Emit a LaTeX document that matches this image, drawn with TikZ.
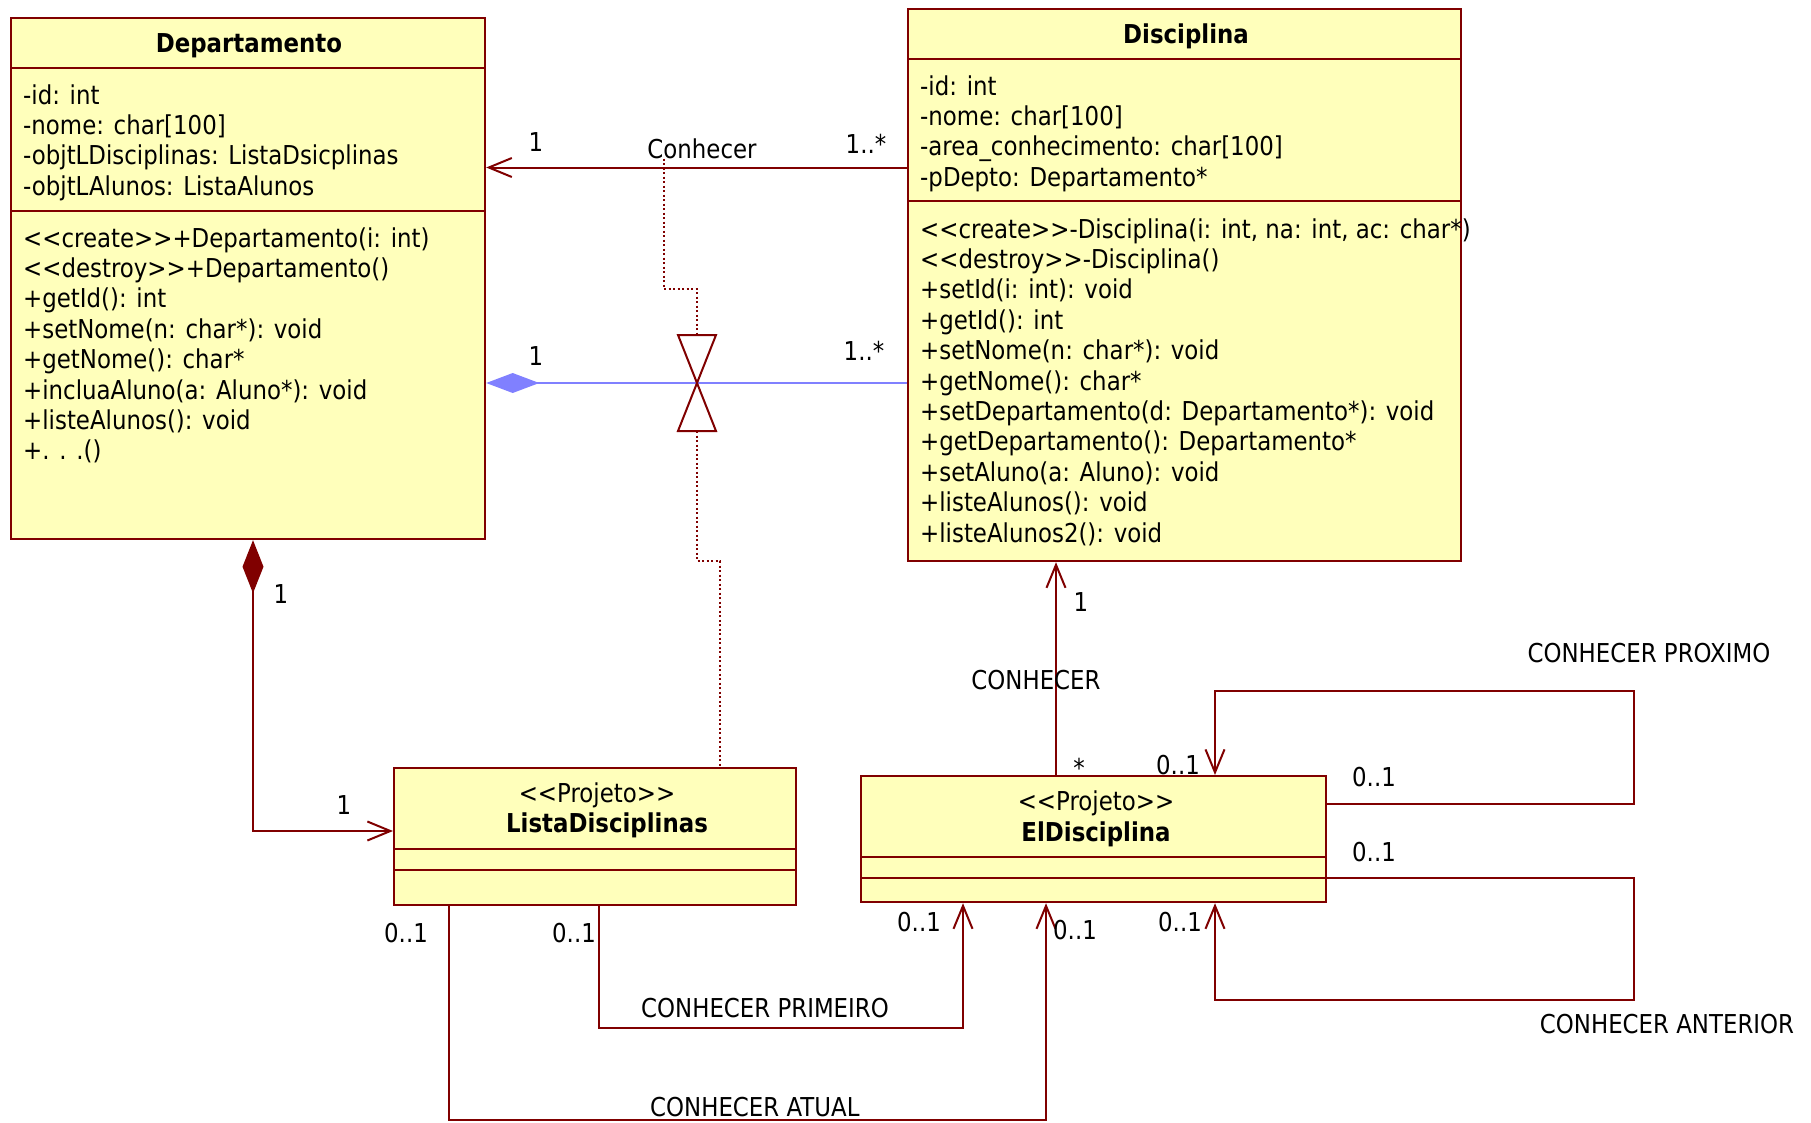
\documentclass[tikz,border=0pt]{standalone}
\usepackage{fontspec}
\setmainfont{DejaVu Sans}[FakeStretch=0.88]
\usetikzlibrary{arrows.meta}
\definecolor{umlred}{RGB}{128,0,0}
\definecolor{umlfill}{RGB}{255,255,187}
\definecolor{umlblue}{RGB}{128,128,255}
\tikzset{
  cls/.style={draw=umlred, fill=umlfill, line width=2.2pt, inner sep=0pt, anchor=north west},
  sepline/.style={draw=umlred, line width=2.2pt},
  txt/.style={inner sep=0pt, anchor=base west, font=\fontsize{26}{30}\selectfont},
  lbl/.style={inner sep=0pt, anchor=base, font=\fontsize{26}{30}\selectfont},
  ttl/.style={inner sep=0pt, anchor=base, font=\fontsize{26}{30}\selectfont\bfseries},
  assoc/.style={draw=umlred, line width=2pt},
  openhead/.style={-{Straight Barb[length=23pt, width=19pt, line width=2pt]}},
  dotline/.style={draw=umlred, line width=2pt, dash pattern=on 2pt off 2.5pt},
}
\newcommand\linesat[4]{\foreach \t [count=\i] in {#4} {\node[txt] (#1\i) at (#2,{#3+30.4*(\i-1)}) {\t};}}
\begin{document}
\begin{tikzpicture}[x=1pt,y=-1pt]
\useasboundingbox (0,0) rectangle (1811,1122);

% ---------- Departamento ----------
\node[cls, minimum width=474pt, minimum height=521pt] (dep) at (10,17) {};
\draw[sepline] (dep.west |- 0,68) -- (dep.east |- 0,68);
\draw[sepline] (dep.west |- 0,211) -- (dep.east |- 0,211);
\node[ttl] (depT) at (249,52.6) {Departamento};
\linesat{dA}{23}{104}{{-id: int},{-nome: char[100]},{-objtLDisciplinas: ListaDsicplinas},{-objtLAlunos: ListaAlunos}}
\linesat{dM}{23}{247}{{<{}<create>{}>+Departamento(i: int)},{<{}<destroy>{}>+Departamento()},{+getId(): int},{+setNome(n: char*): void},{+getNome(): char*},{+incluaAluno(a: Aluno*): void},{+listeAlunos(): void},{+. . .()}}

% ---------- Disciplina ----------
\node[cls, minimum width=553pt, minimum height=552pt] (dis) at (907,8) {};
\draw[sepline] (dis.west |- 0,59) -- (dis.east |- 0,59);
\draw[sepline] (dis.west |- 0,201) -- (dis.east |- 0,201);
\node[ttl] (disT) at (1186,43) {Disciplina};
\linesat{sA}{920}{95}{{-id: int},{-nome: char[100]},{-area\_conhecimento: char[100]},{-pDepto: Departamento*}}
\linesat{sM}{920}{238}{{<{}<create>{}>-Disciplina(i: int, na: int, ac: char*)},{<{}<destroy>{}>-Disciplina()},{+setId(i: int): void},{+getId(): int},{+setNome(n: char*): void},{+getNome(): char*},{+setDepartamento(d: Departamento*): void},{+getDepartamento(): Departamento*},{+setAluno(a: Aluno): void},{+listeAlunos(): void},{+listeAlunos2(): void}}

% ---------- ListaDisciplinas ----------
\node[cls, minimum width=402pt, minimum height=137pt] (lst) at (393,767) {};
\draw[sepline] (lst.west |- 0,849) -- (lst.east |- 0,849);
\draw[sepline] (lst.west |- 0,870) -- (lst.east |- 0,870);
\node[lbl] (lstS) at (597,802) {<{}<Projeto>{}>};
\node[ttl] (lstT) at (607,832) {ListaDisciplinas};

% ---------- ElDisciplina ----------
\node[cls, minimum width=465pt, minimum height=126pt] (eld) at (860,775) {};
\draw[sepline] (eld.west |- 0,857) -- (eld.east |- 0,857);
\draw[sepline] (eld.west |- 0,878) -- (eld.east |- 0,878);
\node[lbl] (eldS) at (1096,810) {<{}<Projeto>{}>};
\node[ttl] (eldT) at (1096,841) {ElDisciplina};

% ---------- Conhecer (Disciplina -> Departamento) ----------
\draw[assoc, openhead] (dis.west |- 0,167.5) -- (dep.east |- 0,167.5);
\node[lbl] (l1) at (536,151) {1};
\node[lbl] (lconh) at (702,158) {Conhecer};
\node[lbl] (l2) at (866,153) {1..*};

% ---------- blue aggregation ----------
\draw[draw=umlblue, line width=2pt, {Diamond[length=53pt, width=20pt, fill=umlblue, color=umlblue]}-] (dep.east |- 0,383) -- (dis.west |- 0,383);
\node[lbl] (l3) at (536,365) {1};
\node[lbl] (l4) at (864,360) {1..*};

% ---------- bowtie ----------
\coordinate (btC) at (697,383);
\coordinate (btT) at (697,335);
\coordinate (btB) at (697,431);
\draw[umlred, line width=2pt, line join=miter] (678,335) -- (716,335) -- (btC) -- cycle;
\draw[umlred, line width=2pt, line join=miter] (678,431) -- (716,431) -- (btC) -- cycle;
\draw[dotline] (lconh.south -| 664,0) |- (btT |- 0,289) -- (btT);
\draw[dotline] (btB) -- (btB |- 0,561) -- (720,561) -- (lst.north -| 720,0);

% ---------- composition ----------
\draw[assoc, {Diamond[length=53pt, width=21pt, fill=umlred]}-{Straight Barb[length=23pt, width=19pt, line width=2pt]}] (dep.south -| 253,0) |- (lst.west |- 0,831);
\node[lbl] (l5) at (281,603) {1};
\node[lbl] (l6) at (344,814) {1};

% ---------- CONHECER (ElDisciplina -> Disciplina) ----------
\draw[assoc, openhead] (eld.north -| 1056,0) -- (dis.south -| 1056,0);
\node[lbl] (l7) at (1081,611) {1};
\node[lbl] (l8) at (1036,689) {CONHECER};
\node[lbl] (l9) at (1079,777) {*};

% ---------- CONHECER PROXIMO ----------
\draw[assoc, openhead] (eld.east |- 0,804) -| (1634,691) -| (eld.north -| 1215,0);
\node[lbl] (l10) at (1178,774) {0..1};
\node[lbl] (l11) at (1374,786) {0..1};
\node[lbl] (l12) at (1649,662) {CONHECER PROXIMO};

% ---------- CONHECER ANTERIOR ----------
\draw[assoc, openhead] (eld.east |- 0,878) -| (1634,1000) -| (eld.south -| 1215,0);
\node[lbl] (l13) at (1374,861) {0..1};
\node[lbl] (l14) at (1180,931) {0..1};
\node[lbl] (l15) at (1667,1033) {CONHECER ANTERIOR};

% ---------- CONHECER PRIMEIRO ----------
\draw[assoc, openhead] (lst.south -| 599,0) |- (963,1028) -- (eld.south -| 963,0);
\node[lbl] (l16) at (574,942) {0..1};
\node[lbl] (l17) at (919,931) {0..1};
\node[txt] (l18) at (641,1017) {CONHECER PRIMEIRO};

% ---------- CONHECER ATUAL ----------
\draw[assoc, openhead] (lst.south -| 449,0) |- (1046,1120) -- (eld.south -| 1046,0);
\node[lbl] (l19) at (406,942) {0..1};
\node[lbl] (l20) at (1075,939) {0..1};
\node[txt] (l21) at (650,1116) {CONHECER ATUAL};
\end{tikzpicture}
\end{document}
